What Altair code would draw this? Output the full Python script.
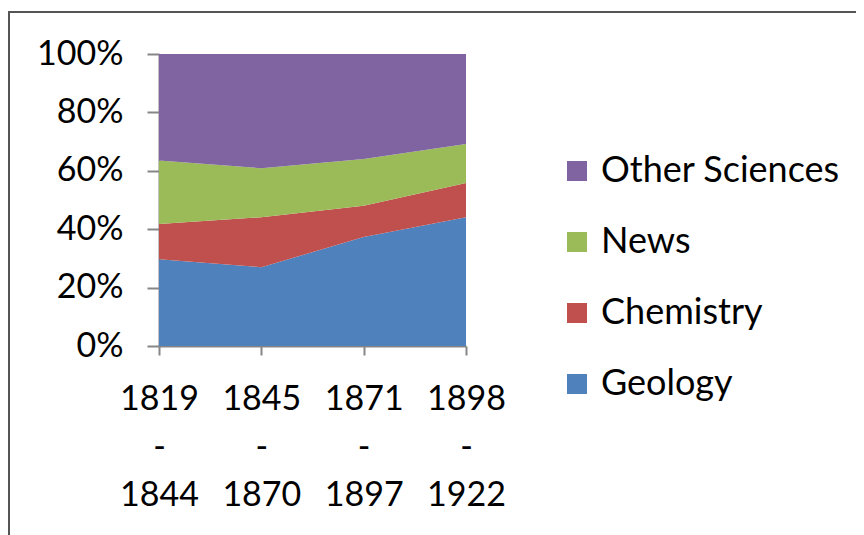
import altair as alt
import pandas as pd

periods = ["1819 - 1844", "1845 - 1870", "1871 - 1897", "1898 - 1922"]
geology = [29.7, 27.0, 37.3, 44.1]
chemistry = [12.1, 17.1, 10.7, 11.7]
news = [21.7, 16.8, 16.0, 13.4]
other = [36.5, 39.1, 36.0, 30.8]

series = ["Geology", "Chemistry", "News", "Other Sciences"]
values = [geology, chemistry, news, other]
legend_order = ["Other Sciences", "News", "Chemistry", "Geology"]
colors = ["#8064A2", "#9BBB59", "#C0504D", "#4F81BD"]

rows = []
for i, (s, vals) in enumerate(zip(series, values)):
    for p, v in zip(periods, vals):
        rows.append({"period": p, "series": s, "value": v, "ord": i})
df = pd.DataFrame(rows)

FONT = "Lato"

area = alt.Chart(df).mark_area(opacity=1).encode(
    x=alt.X("period:N", sort=periods,
            scale=alt.Scale(type="point", padding=0),
            axis=alt.Axis(title=None, labelAngle=0, labelExpr="split(datum.label, ' ')",
                          labelLineHeight=48, labelFontSize=34, labelFont=FONT,
                          labelColor="#000000", labelPadding=27, labelBaseline="top",
                          domainColor="#868686", domainWidth=2, tickColor="#868686",
                          tickWidth=2, tickSize=9, grid=False)),
    y=alt.Y("value:Q", stack="normalize",
            scale=alt.Scale(domain=[0, 1]),
            axis=alt.Axis(title=None, format=".0%", values=[0, 0.2, 0.4, 0.6, 0.8, 1.0],
                          labelFontSize=34, labelFont=FONT, labelColor="#000000",
                          labelPadding=24, domainColor="#868686", domainWidth=2,
                          tickColor="#868686", tickWidth=2, tickSize=12, grid=False)),
    color=alt.Color("series:N", scale=alt.Scale(domain=legend_order, range=colors),
                    legend=alt.Legend(title=None, orient="none", legendX=400, legendY=99,
                                      symbolType="square", symbolSize=400,
                                      symbolStrokeWidth=0, labelFont=FONT,
                                      labelFontSize=36, labelColor="#000000",
                                      labelLimit=0, rowPadding=35, labelOffset=6)),
    order=alt.Order("ord:Q", sort="ascending"),
)

border = alt.Chart(pd.DataFrame({"a": [0]})).mark_rect(
    fill=None, stroke="#555555", strokeWidth=2
).encode(
    x=alt.value(-150), x2=alt.value(900),
    y=alt.value(-42), y2=alt.value(700),
)

chart = alt.layer(border, area).properties(
    width=307, height=292,
    autosize=alt.AutoSizeParams(type="none"),
    padding={"left": 151, "top": 46, "right": 390, "bottom": 220},
).configure_view(stroke=None)

chart.save("out.html", embed_options={"renderer": "svg", "actions": False})
